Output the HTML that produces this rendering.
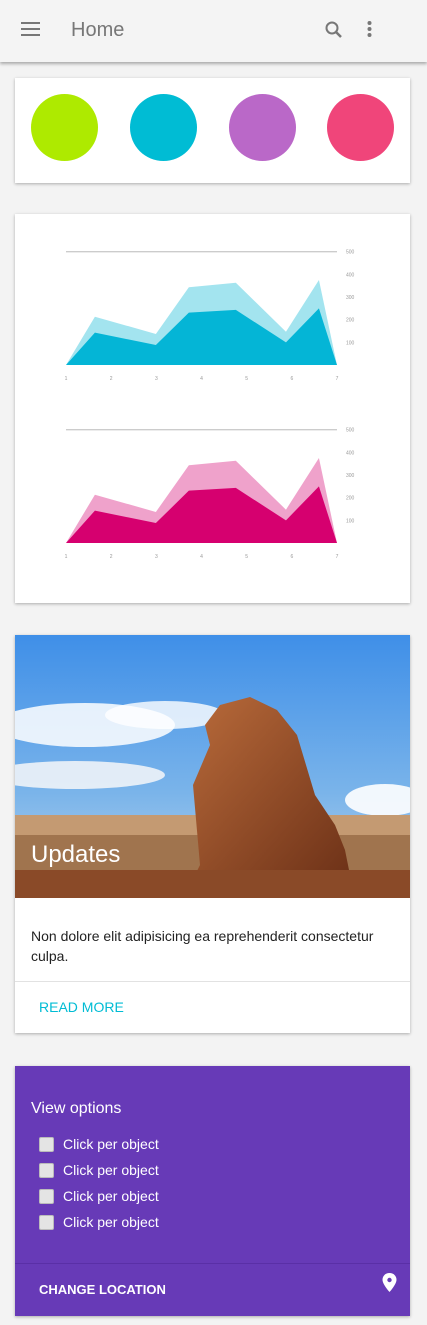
<!DOCTYPE html>
<html><head><meta charset="utf-8">
<style>
*{box-sizing:border-box;margin:0;padding:0}
body{width:427px;height:1325px;background:#f3f3f3;font-family:"Liberation Sans",sans-serif;position:relative;overflow:hidden}
.bar{position:absolute;left:0;top:0;width:427px;height:62px;background:#f4f4f4;box-shadow:0 2px 3px rgba(0,0,0,.3)}
.card{position:absolute;left:15px;width:395px;background:#fff;box-shadow:0 1px 3px rgba(0,0,0,.3)}
.circ{position:absolute;top:16px;width:67px;height:67px;border-radius:50%}
.cb{position:absolute;left:24px;width:15px;height:15px;background:#e4e4e4;border:1px solid #bbb;border-radius:2px}
.cl{position:absolute;left:48px;color:#fff;font-size:14px}
</style></head><body>
<div class="bar">
  <svg style="position:absolute;left:21px;top:22px" width="20" height="14"><rect y="0" width="19" height="2" fill="#777"/><rect y="6" width="19" height="2" fill="#777"/><rect y="12" width="19" height="2" fill="#777"/></svg>
  <div style="position:absolute;left:71px;top:19px;font-size:20px;color:#777">Home</div>
  <svg style="position:absolute;left:324px;top:20px" width="20" height="20"><circle cx="8" cy="8" r="5.5" stroke="#777" stroke-width="2" fill="none"/><line x1="12" y1="12" x2="17" y2="17" stroke="#777" stroke-width="2.5"/></svg>
  <svg style="position:absolute;left:366px;top:20px" width="8" height="20"><circle cx="3.5" cy="3" r="2" fill="#777"/><circle cx="3.5" cy="9" r="2" fill="#777"/><circle cx="3.5" cy="15" r="2" fill="#777"/></svg>
</div>

<div class="card" style="top:78px;height:105px">
  <div class="circ" style="left:16px;background:#aeea00"></div>
  <div class="circ" style="left:115px;background:#00bcd4"></div>
  <div class="circ" style="left:214px;background:#ba68c8"></div>
  <div class="circ" style="left:312px;background:#f0457a"></div>
</div>

<div class="card" style="top:214px;height:389px">
  <svg id="charts" width="395" height="389" style="position:absolute;left:0;top:0"></svg>
</div>

<div class="card" style="top:635px;height:398px">
  <svg width="395" height="263" style="position:absolute;left:0;top:0">
    <defs>
      <linearGradient id="sky" x1="0" y1="0" x2="0" y2="1"><stop offset="0" stop-color="#3f8fe8"/><stop offset="0.6" stop-color="#7ab4ea"/><stop offset="1" stop-color="#b8d4ee"/></linearGradient>
      <linearGradient id="rock" x1="0" y1="0" x2="1" y2="1"><stop offset="0" stop-color="#b86a3a"/><stop offset="1" stop-color="#6e3218"/></linearGradient>
    </defs>
    <rect width="395" height="263" fill="url(#sky)"/>
    <ellipse cx="70" cy="90" rx="90" ry="22" fill="#fff" opacity=".85"/>
    <ellipse cx="150" cy="80" rx="60" ry="14" fill="#fff" opacity=".8"/>
    <ellipse cx="60" cy="140" rx="90" ry="14" fill="#eef3f8" opacity=".9"/>
    <ellipse cx="370" cy="165" rx="40" ry="16" fill="#fff" opacity=".9"/>
    <rect x="0" y="180" width="395" height="83" fill="#a0744e"/>
    <rect x="0" y="180" width="395" height="20" fill="#c49a72"/>
    <path d="M185 230 L178 150 L195 110 L190 90 L205 70 L235 62 L262 75 L282 100 L300 160 L320 190 L330 215 L335 240 L180 240 Z" fill="url(#rock)"/>
    <rect x="0" y="235" width="395" height="28" fill="#8a4a28"/>
  </svg>
  <div style="position:absolute;left:16px;top:206px;font-size:24px;color:#fff">Updates</div>
  <div style="position:absolute;left:16px;top:291px;width:365px;font-size:14px;line-height:20px;color:#222">Non dolore elit adipisicing ea reprehenderit consectetur culpa.</div>
  <div style="position:absolute;left:0;top:346px;width:395px;height:1px;background:#e2e2e2"></div>
  <div style="position:absolute;left:24px;top:364px;font-size:14px;color:#00bcd4">READ MORE</div>
</div>

<div class="card" style="top:1066px;height:250px;background:#673ab7">
  <div style="position:absolute;left:16px;top:34px;color:#fff;font-size:16px">View options</div>
  <div class="cb" style="top:71px"></div><div class="cl" style="top:70px">Click per object</div>
  <div class="cb" style="top:97px"></div><div class="cl" style="top:96px">Click per object</div>
  <div class="cb" style="top:123px"></div><div class="cl" style="top:122px">Click per object</div>
  <div class="cb" style="top:149px"></div><div class="cl" style="top:148px">Click per object</div>
  <div style="position:absolute;left:0;top:197px;width:395px;height:1px;background:#5a2fa6"></div>
  <div style="position:absolute;left:24px;top:216px;color:#fff;font-size:13px;font-weight:bold">CHANGE LOCATION</div>
  <svg style="position:absolute;left:367px;top:207px" width="16" height="20"><path d="M7.5 0 C3.4 0 0.5 3 0.5 6.8 C0.5 11.5 7.5 19 7.5 19 C7.5 19 14.5 11.5 14.5 6.8 C14.5 3 11.6 0 7.5 0Z" fill="#fff"/><circle cx="7.5" cy="7" r="2.2" fill="#673ab7"/></svg>
</div>

<script>
const xTicks=["1","2","3","4","5","6","7"];
const yTicks=[100,200,300,400,500];
const pointX=[1,1.64,2.99,3.72,4.76,5.87,6.6,7];
const seriesTotal=[0,213,137,343,363,147,375,0];
const seriesBase=[0,143,88,231,243,100,250,0];
const svg=document.getElementById('charts');
const NS='http://www.w3.org/2000/svg';
function sx(v){return 51+(v-1)*(322-51)/6;}
function drawChart(top,idx,light,dark){
  const base=top+151;
  const sy=v=>base-v*(113.3/500);
  const g=document.createElementNS(NS,'g');
  
  
  svg.appendChild(g);
  const gl=document.createElementNS(NS,'line');
  gl.setAttribute('x1',51);gl.setAttribute('x2',322);gl.setAttribute('y1',sy(500));gl.setAttribute('y2',sy(500));
  gl.setAttribute('stroke','#ccc');gl.setAttribute('stroke-width','1.3');
  
  
  g.appendChild(gl);
  [[seriesTotal,light,'total-area'],[seriesBase,dark,'base-area']].forEach(([s,c,n])=>{
    const p=document.createElementNS(NS,'polygon');
    p.setAttribute('points',s.map((v,i)=>sx(pointX[i])+','+sy(v)).join(' '));
    p.setAttribute('fill',c);
    
    
    g.appendChild(p);
  });
  yTicks.forEach(t=>{
    const tx=document.createElementNS(NS,'text');
    tx.setAttribute('x',331);tx.setAttribute('y',sy(t)+2);
    tx.setAttribute('font-size','5');tx.setAttribute('fill','#999');
    tx.setAttribute('font-family','Liberation Sans, sans-serif');
    tx.textContent=t;
    
    
    g.appendChild(tx);
  });
  xTicks.forEach((t,i)=>{
    const tx=document.createElementNS(NS,'text');
    tx.setAttribute('x',sx(i+1));tx.setAttribute('y',base+15);
    tx.setAttribute('font-size','5');tx.setAttribute('fill','#999');tx.setAttribute('text-anchor','middle');
    tx.setAttribute('font-family','Liberation Sans, sans-serif');
    tx.textContent=t;
    
    
    g.appendChild(tx);
  });
}
drawChart(0,1,'#a3e4ef','#04b5d6');
drawChart(178,2,'#efa2cb','#d6006f');
</script>
</body></html>
